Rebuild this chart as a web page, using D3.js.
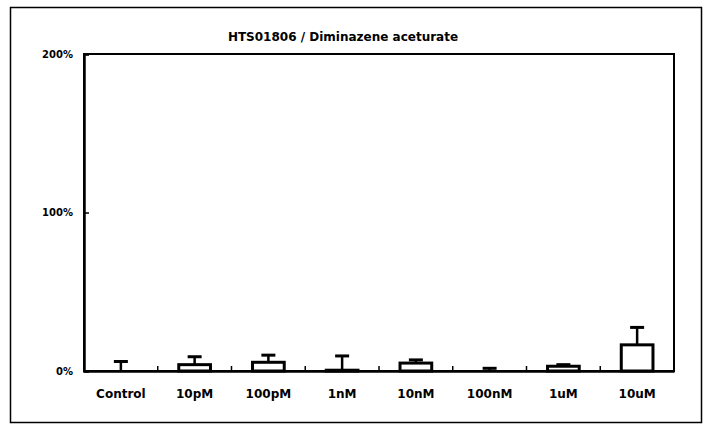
<!DOCTYPE html>
<html>
<head>
<meta charset="utf-8">
<script src="https://cdn.jsdelivr.net/npm/d3@7"></script>
<style>
  html, body { margin: 0; padding: 0; background: #fff; }
  svg { display: block; }
  text { font-family: "DejaVu Sans", sans-serif; fill: #000; }
</style>
</head>
<body>
<svg id="chart" width="703" height="432"></svg>
<script>
const title = "HTS01806 / Diminazene aceturate";
const categories = ["Control", "10pM", "100pM", "1nM", "10nM", "100nM", "1uM", "10uM"];
const values = [0, 4, 5.5, 0.5, 5, 0, 3, 16.5];
const errors = [6, 5, 4.5, 9, 2, 1.7, 1, 11];
const yTicks = [0, 100, 200];
const yTickLabels = ["0%", "100%", "200%"];

const FONT = "'DejaVu Sans', sans-serif";
const svg = d3.select("#chart");
const margin = { left: 84, right: 29, top: 54, bottom: 61 };
const W = 703, H = 432;

// outer frame
svg.append("rect")
  .attr("x", 10.5).attr("y", 7.5)
  .attr("width", 691).attr("height", 415)
  .attr("fill", "none").attr("stroke", "#000").attr("stroke-width", 1.5);

const x = d3.scaleBand().domain(categories)
  .range([margin.left, W - margin.right]).paddingInner(0).paddingOuter(0);
const y = d3.scaleLinear().domain([0, 200]).range([H - margin.bottom, margin.top]);

// plot area box
svg.append("rect")
  .attr("x", margin.left).attr("y", margin.top)
  .attr("width", W - margin.left - margin.right)
  .attr("height", H - margin.top - margin.bottom)
  .attr("fill", "none").attr("stroke", "#000").attr("stroke-width", 2);

// title
svg.append("text")
  .attr("x", 343).attr("y", 41)
  .attr("text-anchor", "middle")
  .attr("font-size", 12).attr("font-weight", "bold")
  .attr("font-family", FONT)
  .text(title);

// y axis
const yAxis = d3.axisLeft(y).tickValues(yTicks)
  .tickFormat((d, i) => yTickLabels[i]).tickSize(-5).tickPadding(11);
const gy = svg.append("g").attr("transform", `translate(${margin.left},0)`).call(yAxis);
gy.select(".domain").attr("stroke-width", 2.5);
gy.selectAll(".tick line").attr("stroke-width", 1.5);
gy.selectAll(".tick text").attr("font-size", 10).attr("font-weight", "bold")
  .attr("font-family", FONT);

// x axis
const xAxis = d3.axisBottom(x).tickSize(0).tickPadding(18);
const gx = svg.append("g").attr("transform", `translate(0,${y(0)})`).call(xAxis);
gx.select(".domain").attr("stroke-width", 2.5);
gx.selectAll(".tick text").attr("font-size", 12).attr("font-weight", "bold")
  .attr("font-family", FONT);

// category boundary ticks (pointing up inside)
svg.append("g").selectAll("line")
  .data(categories.slice(1))
  .join("line")
  .attr("x1", d => x(d)).attr("x2", d => x(d))
  .attr("y1", y(0)).attr("y2", y(0) - 5)
  .attr("stroke", "#000").attr("stroke-width", 1.5);

const bw = x.bandwidth() * 0.43;

// error bars
const eg = svg.append("g");
categories.forEach((c, i) => {
  const cx = x(c) + x.bandwidth() / 2;
  const top = values[i] + errors[i];
  eg.append("line")
    .attr("x1", cx).attr("x2", cx)
    .attr("y1", y(values[i])).attr("y2", y(top))
    .attr("stroke", "#000").attr("stroke-width", 2.5);
  eg.append("line")
    .attr("x1", cx - 7).attr("x2", cx + 7)
    .attr("y1", y(top)).attr("y2", y(top))
    .attr("stroke", "#000").attr("stroke-width", 3);
});

// bars
svg.append("g").selectAll("rect")
  .data(categories)
  .join("rect")
  .attr("x", d => x(d) + (x.bandwidth() - bw) / 2)
  .attr("width", bw)
  .attr("y", (d, i) => y(values[i]))
  .attr("height", (d, i) => y(0) - y(values[i]))
  .attr("fill", "#fff").attr("stroke", "#000").attr("stroke-width", 3);
</script>
</body>
</html>
